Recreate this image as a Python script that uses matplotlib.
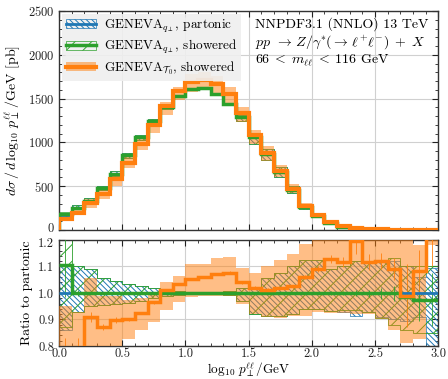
import numpy as np
import matplotlib
matplotlib.use("Agg")
import matplotlib.pyplot as plt
import matplotlib.transforms as mtransforms
from matplotlib.patches import Patch
from matplotlib.lines import Line2D
from matplotlib.ticker import MultipleLocator, FormatStrFormatter

plt.rcParams['font.family'] = 'serif'
plt.rcParams['font.serif'] = ['cmr10']
plt.rcParams['mathtext.fontset'] = 'cm'
plt.rcParams['axes.formatter.use_mathtext'] = True
plt.rcParams['hatch.linewidth'] = 0.7
plt.rcParams['font.size'] = 9.5

# ---------------- data ----------------
edges = [0.0, 0.1, 0.2, 0.3, 0.4, 0.5, 0.6, 0.7, 0.8, 0.9, 1.0,
         1.1, 1.2, 1.3, 1.4, 1.5, 1.6, 1.7, 1.8, 1.9, 2.0,
         2.1, 2.2, 2.3, 2.4, 2.5, 2.6, 2.7, 2.8, 2.9, 3.0]

# partonic cross section [pb]
partonic = [168, 256, 335, 475, 645, 855, 1060, 1244, 1400, 1535,
            1605, 1620, 1555, 1440, 1285, 1062, 872, 665, 462, 262,
            160, 83, 38, 20, 11, 6, 3.5, 2, 1, 0.5]

# ratios to partonic
blue_lo = [0.86, 0.93, 0.95, 0.955, 0.958, 0.962, 0.97, 0.982, 0.99, 0.993,
           0.995, 0.995, 0.995, 0.993, 0.968, 0.922, 0.913, 0.913, 0.922, 0.938,
           0.938, 0.932, 0.928, 0.915, 0.93, 0.91, 0.90, 0.895, 0.91, 0.80]
blue_hi = [1.10, 1.10, 1.09, 1.056, 1.045, 1.033, 1.026, 1.02, 1.01, 1.007,
           1.005, 1.005, 1.005, 1.007, 1.018, 1.022, 1.056, 1.075, 1.10, 1.125,
           1.125, 1.09, 1.10, 1.12, 1.12, 1.12, 1.12, 1.10, 1.06, 1.095]

green_ratio = [1.105, 1.0, 1.0, 1.0, 1.0, 1.0, 1.0, 1.0, 1.0, 1.0,
               1.0, 1.0, 1.0, 1.0, 1.0, 1.0, 1.0, 1.0, 1.0, 1.0,
               1.0, 1.0, 1.0, 1.0, 0.998, 0.998, 0.998, 0.985, 0.975, 0.975]
green_lo = [0.87, 0.93, 0.95, 0.955, 0.958, 0.962, 0.97, 0.982, 0.99, 0.993,
            0.995, 0.995, 0.995, 0.993, 0.968, 0.922, 0.913, 0.913, 0.922, 0.938,
            0.938, 0.932, 0.935, 0.935, 0.93, 0.905, 0.88, 0.86, 0.85, 0.85]
green_hi = [1.25, 1.10, 1.09, 1.056, 1.045, 1.033, 1.026, 1.02, 1.01, 1.007,
            1.005, 1.005, 1.005, 1.007, 1.018, 1.022, 1.056, 1.075, 1.10, 1.125,
            1.125, 1.09, 1.10, 1.12, 1.12, 1.12, 1.13, 1.10, 1.10, 1.10]
green_err = [0.12, 0.01, 0.005, 0.004, 0.003, 0.003, 0.002, 0.002, 0.002, 0.002,
             0.002, 0.002, 0.002, 0.002, 0.002, 0.002, 0.002, 0.003, 0.003, 0.004,
             0.005, 0.006, 0.008, 0.01, 0.015, 0.02, 0.03, 0.05, 0.08, 0.1]

orange_ratio = [0.78, 0.78, 0.91, 0.872, 0.898, 0.90, 0.925, 0.965, 1.01, 1.032,
                1.052, 1.059, 1.07, 1.077, 1.04, 1.02, 1.013, 1.017, 1.025, 1.06,
                1.09, 1.127, 1.117, 1.195, 1.115, 1.12, 1.09, 0.99, 1.083, 1.25]
orange_lo = [0.75, 0.75, 0.75, 0.75, 0.78, 0.825, 0.86, 0.89, 0.935, 0.965,
             0.985, 0.987, 0.987, 0.987, 0.96, 0.92, 0.91, 0.905, 0.915, 0.915,
             0.93, 0.925, 0.925, 0.92, 0.92, 0.90, 0.86, 0.81, 0.825, 1.18]
orange_hi = [0.95, 0.93, 1.056, 0.99, 0.99, 0.975, 0.98, 1.0, 1.04, 1.065,
             1.11, 1.11, 1.13, 1.135, 1.093, 1.074, 1.10, 1.123, 1.148, 1.184,
             1.25, 1.25, 1.25, 1.25, 1.25, 1.25, 1.25, 1.25, 1.18, 1.30]
orange_err = [0.05, 0.05, 0.02, 0.01, 0.01, 0.005, 0.005, 0.005, 0.003, 0.003,
              0.003, 0.003, 0.003, 0.006, 0.005, 0.005, 0.005, 0.005, 0.006, 0.008,
              0.01, 0.015, 0.02, 0.05, 0.03, 0.03, 0.04, 0.12, 0.08, 0.15]

upper_yticks = [0, 500, 1000, 1500, 2000, 2500]
lower_yticks = [0.8, 0.9, 1.0, 1.1, 1.2]
xticks = [0.0, 0.5, 1.0, 1.5, 2.0, 2.5, 3.0]

labels = [r"GENEVA$_{q_\perp}$, partonic",
          r"GENEVA$_{q_\perp}$, showered",
          r"GENEVA$_{\mathcal{T}_0}$, showered"]
info_lines = ["NNPDF3.1 (NNLO) 13 TeV",
              r"$pp\;\,\to\, Z/\gamma^{*}(\to\, \ell^{+}\ell^{-})\; +\; X$",
              r"$66\;<\;m_{\ell\ell}\;<\;116$ GeV"]

# ---------------- derived ----------------
e = np.array(edges)
p = np.array(partonic)
centers = 0.5 * (e[:-1] + e[1:])
blue = '#1f77b4'
green = '#2ca02c'
orange = '#ff7f0e'
BLUE_HATCH = '\\\\\\\\\\\\'
GREEN_HATCH = '//'

fig = plt.figure(figsize=(4.48, 3.79), dpi=100)
ax1 = fig.add_axes([0.132, 0.393, 0.846, 0.578])
ax2 = fig.add_axes([0.132, 0.087, 0.846, 0.280])

def style(ax):
    ax.tick_params(which='both', direction='in', top=True, right=True,
                   colors='#222222', labelsize=9)
    ax.tick_params(which='major', length=4, width=0.8)
    ax.tick_params(which='minor', length=2, width=0.6)
    ax.grid(True, which='major', color='#d0d0d0', lw=0.8)
    ax.set_axisbelow(True)
    for s in ax.spines.values():
        s.set_color('#333333')
        s.set_linewidth(1.0)
    ax.set_xlim(0, 3.0)
    ax.set_xticks(xticks)
    ax.xaxis.set_minor_locator(MultipleLocator(0.1))

# ---- upper panel ----
style(ax1)
ax1.stairs(p * np.array(blue_hi), e, baseline=p * np.array(blue_lo), fill=True,
           facecolor='none', edgecolor=blue, hatch=BLUE_HATCH, lw=0.5, zorder=2)
ax1.stairs(p * np.array(green_hi), e, baseline=p * np.array(green_lo), fill=True,
           facecolor='none', edgecolor=green, hatch=GREEN_HATCH, lw=0.5, zorder=2)
ax1.stairs(p * np.array(orange_hi), e, baseline=p * np.array(orange_lo), fill=True,
           color=orange, alpha=0.5, lw=0, zorder=3)
ax1.stairs(p, e, color=blue, lw=2.0, zorder=4)
ax1.stairs(p * np.array(green_ratio), e, color=green, lw=2.5, zorder=5)
ax1.stairs(p * np.array(orange_ratio), e, color=orange, lw=3.0, zorder=6)
ax1.set_ylim(0, 2500)
ax1.set_yticks(upper_yticks)
ax1.yaxis.set_minor_locator(MultipleLocator(100))
ax1.tick_params(labelbottom=False)
ax1.set_ylabel(r"$d\sigma\,/\,d\,\log_{10}\,p_{\perp}^{\ell\ell}\,/\mathrm{GeV}$ [pb]",
               fontsize=10)

handles = [
    (Patch(facecolor='none', edgecolor=blue, hatch=BLUE_HATCH, lw=0.5),
     Line2D([], [], color=blue, lw=2.0)),
    (Patch(facecolor='none', edgecolor=green, hatch=GREEN_HATCH, lw=0.5),
     Line2D([], [], color=green, lw=2.5)),
    (Patch(facecolor=orange, alpha=0.5, edgecolor='none'),
     Line2D([], [], color=orange, lw=3.0)),
]
leg = ax1.legend(handles, labels, loc='upper left', fontsize=9.5, fancybox=False,
                 framealpha=0.9, facecolor='#efefef', edgecolor='none',
                 handlelength=2.3, borderaxespad=0.2, labelspacing=0.25,
                 borderpad=0.3, handletextpad=0.6)
leg.set_zorder(10)

for i, t in enumerate(info_lines):
    ax1.text(0.517, 0.94 - i * 0.082, t, transform=ax1.transAxes,
             ha='left', va='center', fontsize=10, zorder=11)

# ---- lower panel ----
style(ax2)
ax2.stairs(blue_hi, e, baseline=blue_lo, fill=True, facecolor='none',
           edgecolor=blue, hatch=BLUE_HATCH, lw=0.5, zorder=2)
ax2.stairs(green_hi, e, baseline=green_lo, fill=True, facecolor='none',
           edgecolor=green, hatch=GREEN_HATCH, lw=0.6, zorder=2)
ax2.stairs(orange_hi, e, baseline=orange_lo, fill=True, color=orange,
           alpha=0.5, lw=0, zorder=3)
ax2.errorbar(centers, green_ratio, yerr=green_err, fmt='none', ecolor=green,
             elinewidth=0.6, zorder=4)
ax2.errorbar(centers, orange_ratio, yerr=orange_err, fmt='none', ecolor=orange,
             elinewidth=0.6, zorder=4)
ax2.stairs(np.ones(len(partonic)), e, baseline=None, color=blue, lw=2.0, zorder=5)
ax2.stairs(green_ratio, e, baseline=None, color=green, lw=2.5, zorder=6)
ax2.stairs(orange_ratio, e, baseline=None, color=orange, lw=2.5, zorder=7)
ax2.set_ylim(0.8, 1.2)
ax2.set_yticks(lower_yticks)
ax2.yaxis.set_minor_locator(MultipleLocator(0.02))
ax2.set_ylabel("Ratio to partonic", fontsize=10)
ax2.set_xlabel(r"$\log_{10}\,p_{\perp}^{\ell\ell}/\mathrm{GeV}$", fontsize=9.5,
               labelpad=0)
ax2.yaxis.set_major_formatter(FormatStrFormatter('%.1f'))
ax2.xaxis.set_major_formatter(FormatStrFormatter('%.1f'))
ax2.tick_params(axis='x', pad=1.5)

fig.align_ylabels([ax1, ax2])

# nudge the two adjacent tick labels at the panel junction apart slightly
fig.canvas.draw()
up = mtransforms.ScaledTranslation(0, 2.0 / 72, fig.dpi_scale_trans)
down = mtransforms.ScaledTranslation(0, -2.0 / 72, fig.dpi_scale_trans)
t0 = ax1.yaxis.get_major_ticks()[0].label1
t0.set_transform(t0.get_transform() + up)
t1 = ax2.yaxis.get_major_ticks()[-1].label1
t1.set_transform(t1.get_transform() + down)

fig.savefig("out.png", dpi=100)
